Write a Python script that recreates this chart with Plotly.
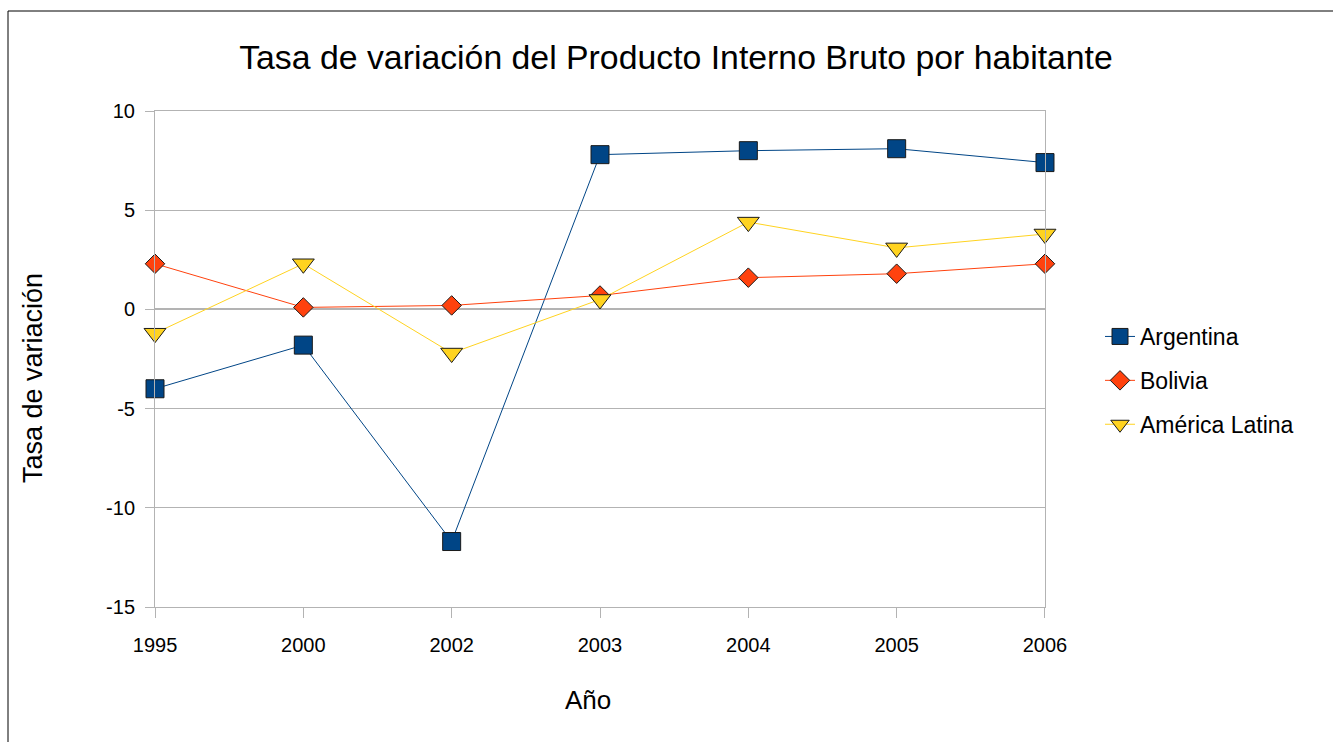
import plotly.graph_objects as go

years = ["1995", "2000", "2002", "2003", "2004", "2005", "2006"]
argentina = [-4.0, -1.8, -11.7, 7.8, 8.0, 8.1, 7.4]
bolivia = [2.3, 0.1, 0.2, 0.7, 1.6, 1.8, 2.3]
america_latina = [-1.2, 2.3, -2.2, 0.5, 4.4, 3.1, 3.8]
y_ticks = [-15, -10, -5, 0, 5, 10]
y_tick_labels = ["-15", "-10", "-5", "0", "5", "10"]

FONT = "Liberation Sans, Arial, sans-serif"
W, H = 1333, 742
L, R, T, B = 155, 1045, 111, 607

fig = go.Figure()
fig.add_trace(go.Scatter(
    x=years, y=argentina, name="Argentina", mode="lines+markers", legendgroup="a",
    cliponaxis=False,
    line=dict(color="#004586", width=1),
    marker=dict(symbol="square", size=18, color="#004586", line=dict(color="#1a1a1a", width=1)),
))
fig.add_trace(go.Scatter(
    x=years, y=bolivia, name="Bolivia", mode="lines+markers", legendgroup="b",
    cliponaxis=False,
    line=dict(color="#ff420e", width=1),
    marker=dict(symbol="diamond", size=15, color="#ff420e", line=dict(color="#1a1a1a", width=1)),
))
fig.add_trace(go.Scatter(
    x=years, y=america_latina, name="América Latina", mode="lines+markers", legendgroup="c",
    cliponaxis=False,
    line=dict(color="#ffd320", width=1),
    marker=dict(symbol="triangle-down", size=19, color="#ffd320", line=dict(color="#1a1a1a", width=1)),
))

pw, ph = R - L, B - T
fig.update_layout(
    width=W, height=H,
    margin=dict(l=L, r=W - R, t=T, b=H - B, autoexpand=False),
    paper_bgcolor="white", plot_bgcolor="white",
    font=dict(family=FONT, color="#000000"),
    title=dict(text="Tasa de variación del Producto Interno Bruto por habitante",
               x=676 / W, xanchor="center", y=1 - 57 / H, yanchor="middle",
               font=dict(size=33.8, family=FONT, color="#000000")),
    xaxis=dict(type="category", showgrid=False, showline=True, linecolor="#b3b3b3",
               linewidth=1, mirror=True, ticks="outside", ticklen=10, tickcolor="#b3b3b3",
               ticklabelstandoff=10,
               tickfont=dict(size=20, family=FONT, color="#000000"), zeroline=False,
               range=[-0.0001, 6.0001]),
    yaxis=dict(range=[-15, 10], tickvals=y_ticks, ticktext=y_tick_labels,
               showgrid=True, gridcolor="#b3b3b3", gridwidth=1,
               showline=True, linecolor="#b3b3b3", linewidth=1, mirror=True,
               ticks="outside", ticklen=9, tickcolor="#b3b3b3",
               ticklabelstandoff=6,
               tickfont=dict(size=20, family=FONT, color="#000000"),
               zeroline=True, zerolinecolor="#b3b3b3", zerolinewidth=2),
    legend=dict(x=(1100 - L) / pw, xanchor="left", y=1 - (315 - T) / ph, yanchor="top",
                font=dict(size=23, family=FONT, color="#000000"),
                tracegroupgap=11, bgcolor="rgba(0,0,0,0)"),
    showlegend=True,
    annotations=[
        dict(text="Año", xref="paper", yref="paper", x=(588 - L) / pw, y=(B - 700) / ph,
             xanchor="center", yanchor="middle", showarrow=False,
             font=dict(size=26, family=FONT, color="#000000")),
        dict(text="Tasa de variación", xref="paper", yref="paper", x=(33 - L) / pw,
             y=(B - 378) / ph, xanchor="center", yanchor="middle", showarrow=False,
             textangle=-90, font=dict(size=27, family=FONT, color="#000000")),
    ],
    shapes=[
        dict(type="rect", xref="paper", yref="paper",
             x0=(8 - L) / pw, x1=(1345 - L) / pw,
             y0=(B - 755) / ph, y1=(B - 11) / ph,
             line=dict(color="#000000", width=1), fillcolor="rgba(0,0,0,0)", layer="below"),
    ],
)
fig.write_html("out.html", config={"displayModeBar": False},
               post_script="document.body.style.margin='0';")
